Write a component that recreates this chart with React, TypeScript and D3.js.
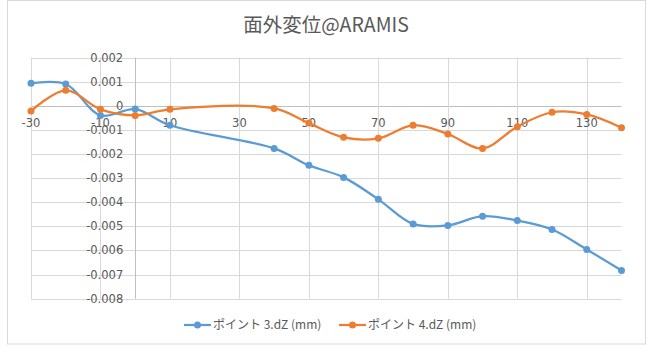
import React from "react";
import * as d3 from "d3";

// chart data
const title = "面外変位@ARAMIS";
const xValues = [-30, -20, -10, 0, 10, 40, 50, 60, 70, 80, 90, 100, 110, 120, 130, 140];
const point3 = [0.00093, 0.0009, -0.0004, -0.00014, -0.00081, -0.00177, -0.00247, -0.00297, -0.00388, -0.0049, -0.00496, -0.00458, -0.00476, -0.00513, -0.00596, -0.00683];
const point4 = [-0.00022, 0.00064, -0.00015, -0.0004, -0.00015, -0.00011, -0.00072, -0.00131, -0.00135, -0.00081, -0.00117, -0.00177, -0.00087, -0.00027, -0.00036, -0.00091];
const seriesNames = ["ポイント 3.dZ (mm)", "ポイント 4.dZ (mm)"];
const xTicks = [-30, -10, 10, 30, 50, 70, 90, 110, 130];
const yTicks = [0.002, 0.001, 0, -0.001, -0.002, -0.003, -0.004, -0.005, -0.006, -0.007, -0.008];

const colors = ["#5B9BD5", "#ED7D31"];
const font = "'Noto Sans CJK JP', 'Noto Sans', sans-serif";
const tickFont = "'DejaVu Sans', sans-serif";
const textColor = "#595959";

const App = () => {
  const width = 654;
  const height = 354;

  const x = d3.scaleLinear().domain([-30, 140]).range([31, 621.5]);
  const y = d3.scaleLinear().domain([-0.008, 0.002]).range([298.7, 57.5]);

  const line = d3
    .line<number>()
    .x((_, i) => x(xValues[i]))
    .y((d) => y(d))
    .curve(d3.curveCatmullRom.alpha(0.5));

  const series = [point3, point4];
  const fmt = (v: number) => (v === 0 ? "0" : v.toFixed(3));

  return (
    <svg
      width={width}
      height={height}
      style={{ position: "absolute", left: 0, top: 0, background: "#fff" }}
      fontFamily={font}
    >
      <rect x={7.5} y={0.5} width={638} height={343.5} fill="#fff" stroke="#D9D9D9" />
      <text x={326} y={32} textAnchor="middle" fontSize={19.5} fill={textColor}>
        {title}
      </text>

      {/* horizontal gridlines */}
      {yTicks.map((t) => (
        <line
          key={"h" + t}
          x1={x(-30)}
          x2={x(140)}
          y1={Math.round(y(t)) + 0.5}
          y2={Math.round(y(t)) + 0.5}
          stroke={t === 0 ? "#BFBFBF" : "#D9D9D9"}
        />
      ))}
      {/* vertical gridlines */}
      {xTicks.map((t) => (
        <line
          key={"v" + t}
          x1={Math.round(x(t)) + 0.5}
          x2={Math.round(x(t)) + 0.5}
          y1={y(0.002)}
          y2={y(-0.008)}
          stroke="#D9D9D9"
        />
      ))}
      {/* y axis at x=0 */}
      <line
        x1={Math.round(x(0)) + 0.5}
        x2={Math.round(x(0)) + 0.5}
        y1={y(0.002)}
        y2={y(-0.008)}
        stroke="#BFBFBF"
      />

      {/* y tick labels */}
      {yTicks.map((t) => (
        <text
          key={"yl" + t}
          x={x(0) - 12}
          y={y(t)}
          dy="0.35em"
          textAnchor="end"
          fontSize={11.5}
          fontFamily={tickFont}
          fill={textColor}
        >
          {fmt(t)}
        </text>
      ))}
      {/* x tick labels */}
      {xTicks.map((t) => (
        <text
          key={"xl" + t}
          x={x(t)}
          y={y(0) + 21}
          textAnchor="middle"
          fontSize={11.5}
          fontFamily={tickFont}
          fill={textColor}
        >
          {t}
        </text>
      ))}

      {/* series */}
      {series.map((s, si) => (
        <g key={"s" + si}>
          <path d={line(s) || ""} fill="none" stroke={colors[si]} strokeWidth={2.25} strokeLinecap="round" />
          {s.map((v, i) => (
            <circle key={i} cx={x(xValues[i])} cy={y(v)} r={3.5} fill={colors[si]} />
          ))}
        </g>
      ))}

      {/* legend */}
      {seriesNames.map((name, i) => {
        const lx = i === 0 ? 184 : 339;
        return (
          <g key={"lg" + i}>
            <line x1={lx} x2={lx + 27} y1={325} y2={325} stroke={colors[i]} strokeWidth={2.25} />
            <circle cx={lx + 13.5} cy={325} r={3.5} fill={colors[i]} />
            <text x={lx + 29} y={325} dy="0.35em" fontSize={12} fill={textColor}>
              {name}
            </text>
          </g>
        );
      })}
    </svg>
  );
};

export default App;
